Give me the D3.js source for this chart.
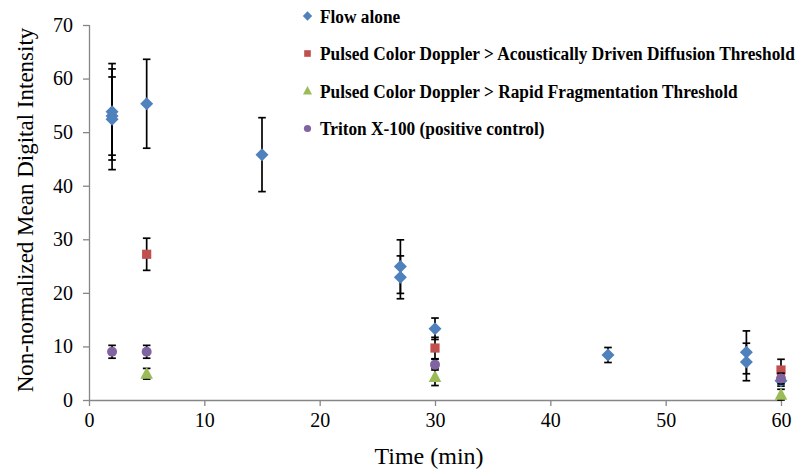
<!DOCTYPE html>
<html><head><meta charset="utf-8">
<script src="https://cdn.jsdelivr.net/npm/d3@7"></script>
<style>body{margin:0;background:#fff}svg{display:block}</style>
</head><body>
<svg id="c" width="801" height="470"></svg>
<script>
// ---- data ----
const seriesNames = ["Flow alone",
  "Pulsed Color Doppler > Acoustically Driven Diffusion Threshold",
  "Pulsed Color Doppler > Rapid Fragmentation Threshold",
  "Triton X-100 (positive control)"];
const flowX   = [2, 2, 2, 5, 15, 27, 27, 30, 45, 57, 57, 60];
const flowY   = [53.8, 53.0, 52.4, 55.3, 45.8, 24.9, 22.9, 13.3, 8.4, 8.9, 7.1, 3.6];
const flowErr = [9.0, 7.3, 9.4, 8.3, 6.9, 5.0, 4.0, 2.0, 1.4, 4.0, 3.5, 1.0];
const adX   = [5, 30, 60];
const adY   = [27.2, 9.7, 5.6];
const adErr = [3.0, 2.0, 2.0];
const rfX   = [5, 30, 60];
const rfY   = [4.9, 4.3, 1.0];
const rfErr = [1.0, 1.6, 1.0];
const trX   = [2, 5, 30, 60];
const trY   = [9.0, 9.0, 6.6, 4.0];
const trErr = [1.2, 1.2, 1.0, 1.0];
const xTicks = [0, 10, 20, 30, 40, 50, 60];
const yTicks = [0, 10, 20, 30, 40, 50, 60, 70];

const colors = ["#4F81BD", "#C0504D", "#9BBB59", "#8064A2"];

// marker path generators (scale factor k)
function marker(i, k) {
  if (i === 0) { const r = 6.5 * k; return `M0,${-r}L${r},0L0,${r}L${-r},0Z`; }
  if (i === 1) { const h = 4.6 * k; return `M${-h},${-h}H${h}V${h}H${-h}Z`; }
  if (i === 2) { const w = 6.3 * k, t = 7 * k, b = 5 * k; return `M0,${-t}L${w},${b}L${-w},${b}Z`; }
  const r = 5 * k; return `M${-r},0A${r},${r} 0 1,0 ${r},0A${r},${r} 0 1,0 ${-r},0Z`;
}

const series = [
  {x: flowX, y: flowY, e: flowErr},
  {x: adX, y: adY, e: adErr},
  {x: rfX, y: rfY, e: rfErr},
  {x: trX, y: trY, e: trErr}
];

const svg = d3.select("#c");
const L = 89, R = 781, T = 25, B = 400;
const x = d3.scaleLinear().domain([0, 60]).range([L, R]);
const y = d3.scaleLinear().domain([0, 70]).range([B, T]);

const font = "'Liberation Serif','Times New Roman',serif";

// axes
const xa = svg.append("g").attr("transform", `translate(0,${B})`)
  .call(d3.axisBottom(x).tickValues(xTicks).tickSize(6).tickPadding(7).tickSizeOuter(0));
const ya = svg.append("g").attr("transform", `translate(${L},0)`)
  .call(d3.axisLeft(y).tickValues(yTicks).tickSize(6).tickPadding(10).tickSizeOuter(0));
[xa, ya].forEach(g => {
  g.select(".domain").attr("stroke", "#868686").attr("stroke-width", 1.3);
  g.selectAll(".tick line").attr("stroke", "#868686").attr("stroke-width", 1.3);
  g.selectAll(".tick text").attr("font-family", font).attr("font-size", 20).attr("fill", "#000");
});
ya.select(".domain").attr("d", `M0.5,${B}V${T}`);

// series
series.forEach((s, si) => {
  const g = svg.append("g");
  const pts = s.x.map((xv, i) => ({x: xv, y: s.y[i], e: s.e[i]}));
  const eb = g.selectAll(".eb").data(pts).join("g");
  eb.append("line").attr("x1", d => x(d.x)).attr("x2", d => x(d.x))
    .attr("y1", d => y(d.y + d.e)).attr("y2", d => y(d.y - d.e));
  eb.append("line").attr("x1", d => x(d.x) - 3.8).attr("x2", d => x(d.x) + 3.8)
    .attr("y1", d => y(d.y + d.e)).attr("y2", d => y(d.y + d.e));
  eb.append("line").attr("x1", d => x(d.x) - 3.8).attr("x2", d => x(d.x) + 3.8)
    .attr("y1", d => y(d.y - d.e)).attr("y2", d => y(d.y - d.e));
  eb.selectAll("line").attr("stroke", "#000").attr("stroke-width", 1.7);
  g.selectAll(".m").data(pts).join("path")
    .attr("transform", d => `translate(${x(d.x)},${y(d.y)})`)
    .attr("d", marker(si, 1))
    .attr("fill", colors[si]);
});

// legend
const lg = svg.append("g");
seriesNames.forEach((n, i) => {
  const cy = 16 + i * 37.5;
  lg.append("path").attr("transform", `translate(307.5,${cy})`)
    .attr("d", marker(i, 0.72)).attr("fill", colors[i]);
  lg.append("text").attr("transform", `translate(320,${cy + 6.5}) scale(0.91,1)`).text(n)
    .attr("font-family", font).attr("font-weight", "bold").attr("font-size", 19).attr("fill", "#000");
});

// axis titles
svg.append("text").attr("x", 429).attr("y", 464).attr("text-anchor", "middle")
  .attr("font-family", font).attr("font-size", 24).text("Time (min)");
svg.append("text").attr("transform", `translate(33,210) rotate(-90)`).attr("text-anchor", "middle")
  .attr("font-family", font).attr("font-size", 23).text("Non-normalized Mean Digital Intensity");
</script>
</body></html>
